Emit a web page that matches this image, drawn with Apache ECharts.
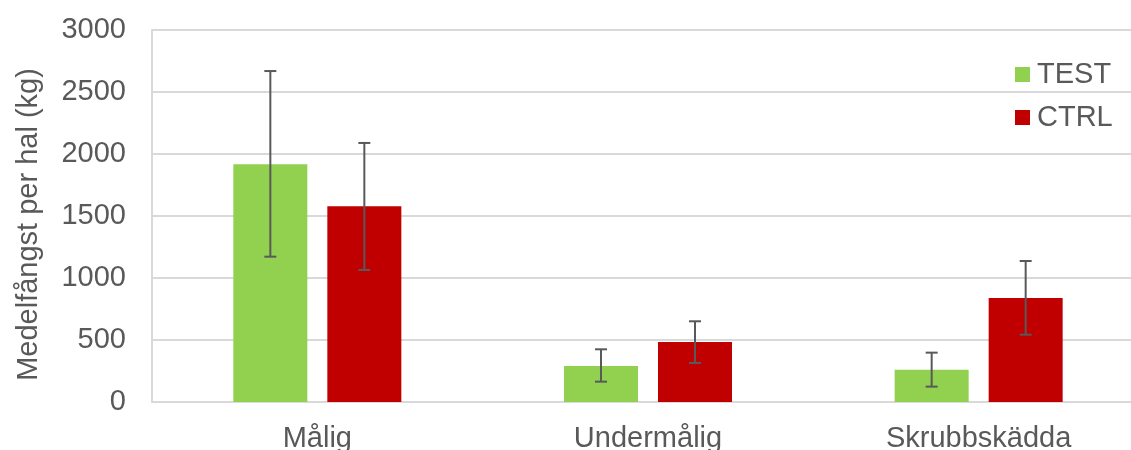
<!DOCTYPE html>
<html>
<head>
<meta charset="utf-8">
<script src="https://cdn.jsdelivr.net/npm/echarts@6/dist/echarts.min.js"></script>
<style>html,body{margin:0;padding:0;background:#fff;}#c{width:1131px;height:450px;}</style>
</head>
<body>
<div id="c"></div>
<script>
const categories = ['Målig', 'Undermålig', 'Skrubbskädda'];
const testValues = [1917, 290, 261];
const ctrlValues = [1578, 484, 839];
const testErrLow = [1172, 164, 124];
const testErrHigh = [2669, 425, 398];
const ctrlErrLow = [1065, 315, 543];
const ctrlErrHigh = [2089, 651, 1137];
const yTicks = [0, 500, 1000, 1500, 2000, 2500, 3000];

const FONT = '"Liberation Sans", Arial, sans-serif';
const TXT = '#595959';
const BAR_W = 74;
const GAP = 20;

function errSeries(name, low, high, sign) {
  return {
    type: 'custom',
    name: name + '_err',
    z: 10,
    silent: true,
    data: categories.map((c, i) => [i, low[i], high[i]]),
    renderItem: function (params, api) {
      const i = api.value(0);
      const pLow = api.coord([i, api.value(1)]);
      const pHigh = api.coord([i, api.value(2)]);
      const x = pLow[0] + sign * (BAR_W + GAP) / 2;
      const cap = 6;
      const st = { stroke: '#595959', lineWidth: 2, fill: null };
      return {
        type: 'group',
        children: [
          { type: 'line', shape: { x1: x, y1: pLow[1], x2: x, y2: pHigh[1] }, style: st },
          { type: 'line', shape: { x1: x - cap, y1: pLow[1], x2: x + cap, y2: pLow[1] }, style: st },
          { type: 'line', shape: { x1: x - cap, y1: pHigh[1], x2: x + cap, y2: pHigh[1] }, style: st }
        ]
      };
    },
    encode: { x: 0, y: [1, 2] }
  };
}

const chart = echarts.init(document.getElementById('c'), null, { renderer: 'canvas' });
chart.setOption({
  animation: false,
  backgroundColor: '#fff',
  textStyle: { fontFamily: FONT },
  grid: { left: 152, width: 992, top: 30, height: 372, containLabel: false, outerBoundsMode: 'none' },
  legend: {
    orient: 'vertical',
    left: 1015,
    top: 60,
    padding: 0,
    itemWidth: 15,
    itemHeight: 15,
    itemGap: 14,
    icon: 'rect',
    data: ['TEST', 'CTRL'],
    textStyle: { fontFamily: FONT, fontSize: 29, color: TXT, lineHeight: 28, padding: [0, 0, 0, 2] }
  },
  xAxis: {
    type: 'category',
    data: categories,
    axisLine: { show: true, lineStyle: { color: '#D9D9D9', width: 2 } },
    axisTick: { show: false },
    axisLabel: { fontFamily: FONT, fontSize: 29, color: TXT, margin: 22 }
  },
  yAxis: {
    type: 'value',
    min: 0,
    max: 3000,
    interval: 500,
    name: 'Medelfångst per hal (kg)',
    nameLocation: 'middle',
    nameGap: 109,
    nameTextStyle: { fontFamily: FONT, fontSize: 29, color: TXT, padding: [0, 17, 0, 0] },
    axisLine: { show: true, lineStyle: { color: '#D9D9D9', width: 2 } },
    axisTick: { show: false },
    axisLabel: { fontFamily: FONT, fontSize: 29, color: TXT, margin: 26,
      formatter: v => yTicks.includes(v) ? String(v) : '' },
    splitLine: { show: true, lineStyle: { color: '#D9D9D9', width: 2 } }
  },
  series: [
    { name: 'TEST', type: 'bar', data: testValues, barWidth: BAR_W, barGap: (GAP / BAR_W * 100) + '%',
      itemStyle: { color: '#92D050' } },
    { name: 'CTRL', type: 'bar', data: ctrlValues, barWidth: BAR_W, barGap: (GAP / BAR_W * 100) + '%',
      itemStyle: { color: '#C00000' } },
    errSeries('TEST', testErrLow, testErrHigh, -1),
    errSeries('CTRL', ctrlErrLow, ctrlErrHigh, 1)
  ]
});
</script>
</body>
</html>
